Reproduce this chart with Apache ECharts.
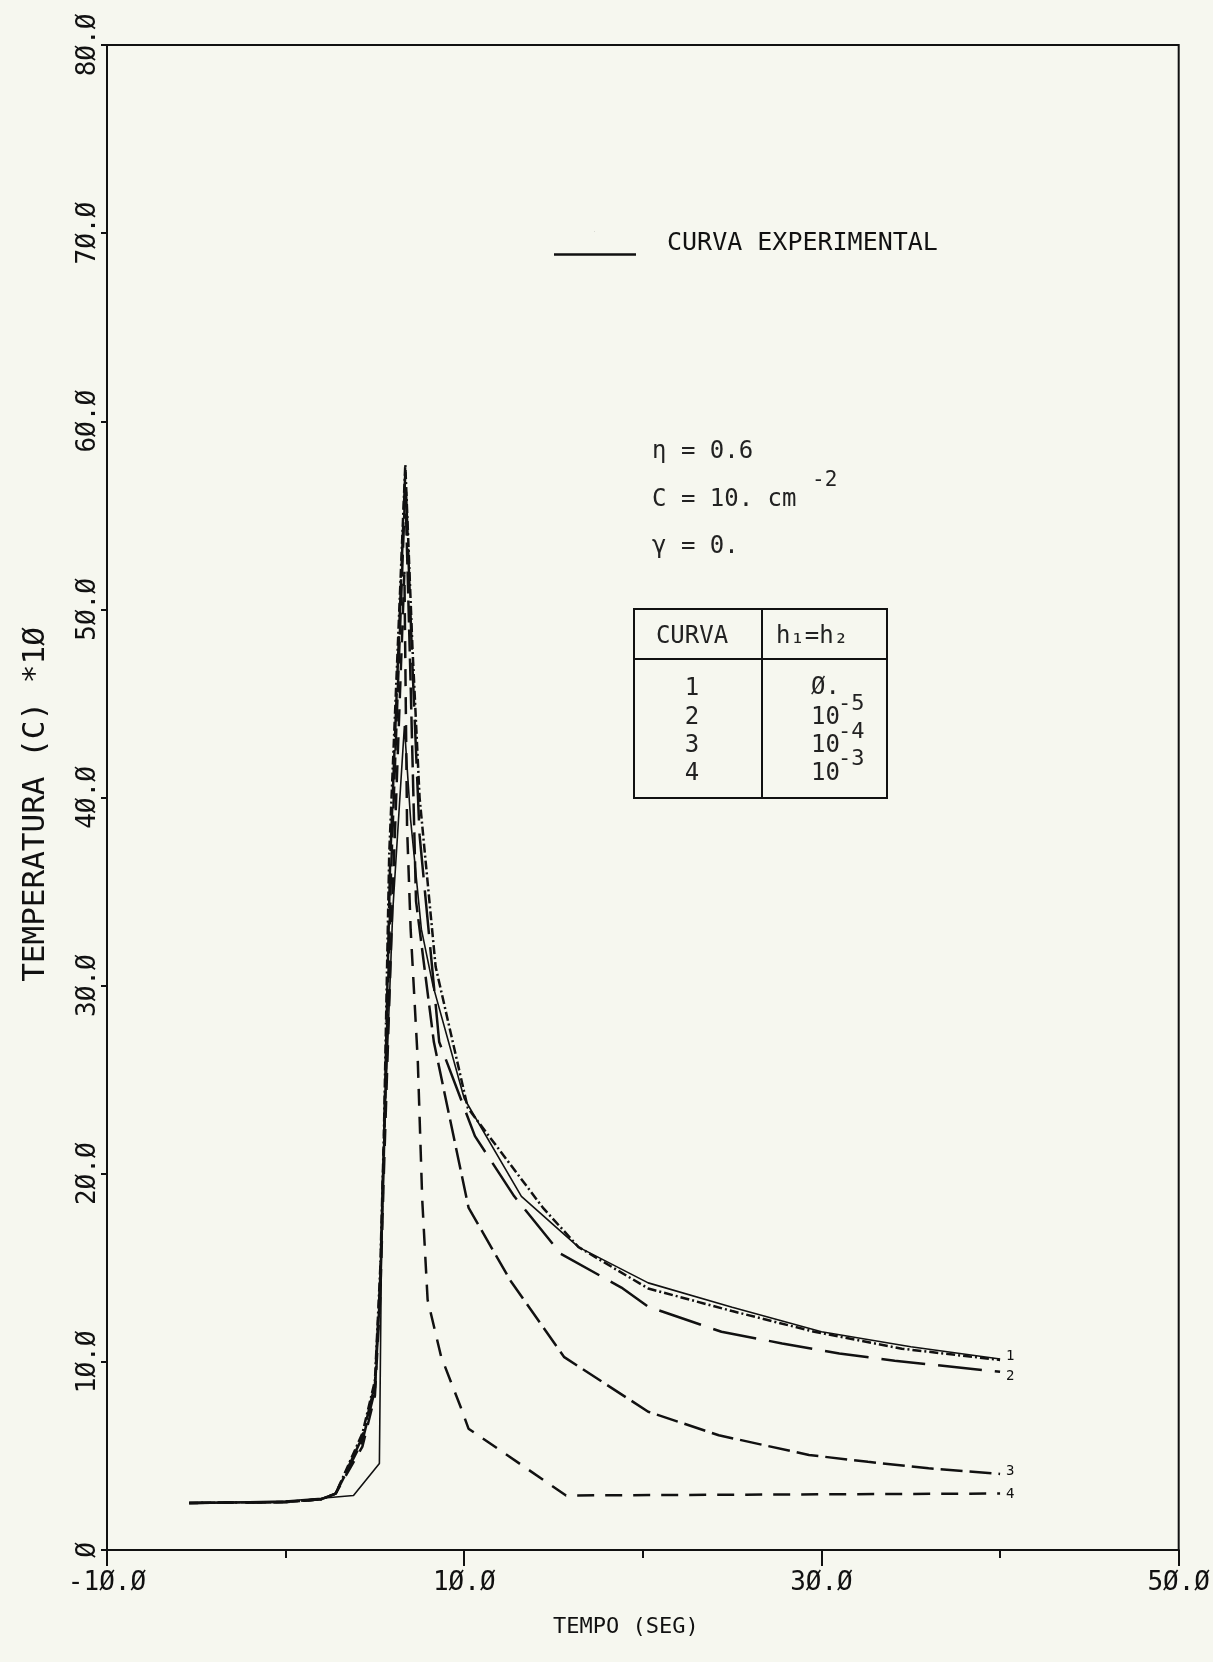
<!DOCTYPE html>
<html>
<head>
<meta charset="utf-8">
<script src="https://cdn.jsdelivr.net/npm/echarts@6/dist/echarts.min.js"></script>
<style>
html,body{margin:0;padding:0;background:#f6f7ef;}
#chart{width:1213px;height:1662px;}
</style>
</head>
<body>
<div id="chart"></div>
<script>
// ---- tick labels ----
const xTicks = [-10, 10, 30, 50];
const xTickLabels = ['-1Ø.Ø', '1Ø.Ø', '3Ø.Ø', '5Ø.Ø'];
const yTicks = [0, 10, 20, 30, 40, 50, 60, 70, 80];
const yTickLabels = ['Ø', '1Ø.Ø', '2Ø.Ø', '3Ø.Ø', '4Ø.Ø', '5Ø.Ø', '6Ø.Ø', '7Ø.Ø', '8Ø.Ø'];

// ---- series data (time in s, temperature in C*10) ----
const expT = [-5.4, 0, 2.0, 3.8, 5.25, 5.4, 6.0, 6.65, 7.0, 7.6, 8.25, 10.0, 13.2, 16.4, 20.3, 25, 30, 35, 40];
const expV = [2.5, 2.6, 2.75, 2.9, 4.6, 19, 34, 43.8, 38.8, 33, 30, 24, 18.8, 16.1, 14.2, 12.9, 11.6, 10.8, 10.15];

const c1T = [-5.4, 0, 2.0, 2.8, 4.3, 5.0, 5.3, 5.5, 5.8, 6.7, 7.1, 7.5, 8.4, 10.2, 14.4, 16.4, 20.3, 25, 29.6, 34.5, 40];
const c1V = [2.5, 2.55, 2.7, 3.0, 6.2, 9.0, 15, 22, 37, 57.7, 48, 40, 31, 23.5, 18.2, 16.1, 13.9, 12.7, 11.6, 10.7, 10.1];

const c2T = [-5.4, 0, 2.0, 2.8, 4.3, 5.0, 5.3, 5.5, 5.85, 6.7, 7.1, 7.5, 8.6, 10.6, 12.8, 15.4, 18.8, 20.3, 24.4, 27.8, 31, 34.1, 40];
const c2V = [2.5, 2.55, 2.7, 3.0, 6.0, 8.8, 14.5, 21.5, 36.5, 57.3, 47, 38, 27, 22, 18.8, 15.75, 13.95, 12.93, 11.6, 10.98, 10.45, 10.06, 9.47];

const c3T = [-5.4, 0, 2.0, 2.8, 4.3, 5.0, 5.3, 5.5, 5.9, 6.7, 7.0, 7.3, 8.3, 10.24, 12.6, 15.6, 20.3, 24.25, 29.3, 32.6, 36, 40];
const c3V = [2.5, 2.55, 2.7, 3.0, 5.8, 8.5, 14, 21, 36, 56.5, 46, 34.5, 27, 18.2, 14.3, 10.25, 7.35, 6.1, 5.05, 4.69, 4.34, 4.04];

const c4T = [-5.4, 0, 2.0, 2.8, 4.3, 5.0, 5.3, 5.5, 6.0, 6.65, 6.8, 7.0, 7.4, 7.65, 7.95, 8.7, 9.8, 10.24, 15.7, 40];
const c4V = [2.5, 2.55, 2.7, 3.0, 5.5, 8.2, 13.5, 20, 35, 52, 38.4, 33, 26, 18.6, 13.3, 10.3, 7.6, 6.45, 2.9, 3.0];

const curveLabels = ['1', '2', '3', '4'];
const legendName = 'CURVA EXPERIMENTAL';

function zip(t, v) { return t.map((x, i) => [x, v[i]]); }

const FONT = '"DejaVu Sans Mono", "Liberation Mono", monospace';
const INK = '#111';

const chart = echarts.init(document.getElementById('chart'), null, {renderer: 'canvas'});

function curve(name, t, v, dash, width, label, offset) {
  return {
    name: name, type: 'line', data: zip(t, v), symbol: 'none', showSymbol: false, smooth: false,
    lineStyle: {color: INK, width: width, type: dash},
    itemStyle: {color: INK},
    endLabel: label ? {show: true, formatter: label, fontFamily: FONT, fontSize: 14, color: INK, distance: 6, offset: offset || [0, 0]} : {show: false},
    silent: true, z: 3
  };
}

const option = {
  backgroundColor: '#f6f7ef',
  animation: false,
  grid: {left: 107, right: 33, top: 45, bottom: 112, show: true, borderColor: INK, borderWidth: 2},
  xAxis: {
    type: 'value', min: -10, max: 50, interval: 20,
    axisLine: {onZero: false, lineStyle: {color: INK, width: 2}},
    axisTick: {length: 16, lineStyle: {color: INK, width: 2}},
    minorTick: {show: true, splitNumber: 2, length: 8, lineStyle: {color: INK, width: 2}},
    splitLine: {show: false},
    axisLabel: {
      formatter: function (v) { const i = xTicks.indexOf(v); return i >= 0 ? xTickLabels[i] : ''; },
      fontFamily: FONT, fontSize: 26, color: INK, margin: 20, showMinLabel: true, showMaxLabel: true
    },
    name: 'TEMPO (SEG)', nameLocation: 'middle', nameGap: 66,
    nameTextStyle: {fontFamily: FONT, fontSize: 22, color: INK, padding: [0, 34, 0, 0]}
  },
  yAxis: {
    type: 'value', min: 0, max: 80, interval: 10,
    axisLine: {onZero: false, lineStyle: {color: INK, width: 2}},
    axisTick: {length: 6, lineStyle: {color: INK, width: 2}},
    splitLine: {show: false},
    axisLabel: {
      rotate: 90,
      formatter: function (v) { const i = yTicks.indexOf(v); return i >= 0 ? yTickLabels[i] : ''; },
      fontFamily: FONT, fontSize: 26, color: INK, margin: 6, showMinLabel: true, showMaxLabel: true
    },
    name: 'TEMPERATURA (C) *1Ø', nameLocation: 'middle', nameRotate: 90, nameGap: 56,
    nameTextStyle: {fontFamily: FONT, fontSize: 31, color: INK, padding: [0, 14, 0, 0]}
  },
  legend: {
    data: [{name: legendName, icon: 'path://M40,0 L40.5,0 L40.5,0.3 L40,0.3 Z M0,22 L82,22 L82,24.5 L0,24.5 Z'}],
    left: 549, top: 226, itemWidth: 82, itemHeight: 24.5, selectedMode: false,
    textStyle: {fontFamily: FONT, fontSize: 25, color: INK, padding: [0, 0, 0, 26]}
  },
  series: [
    curve(legendName, expT, expV, 'solid', 1.6, null),
    curve('CURVA 1', c1T, c1V, [9, 3, 2, 3], 2.5, curveLabels[0], [0, -4]),
    curve('CURVA 2', c2T, c2V, [44, 13], 2.5, curveLabels[1], [0, 5]),
    curve('CURVA 3', c3T, c3V, [22, 7], 2.5, curveLabels[2], [0, -3]),
    curve('CURVA 4', c4T, c4V, [17, 11], 2.5, curveLabels[3], [0, 1])
  ],
  graphic: [
    {type: 'text', x: 652, y: 452, style: {text: 'η = 0.6', font: '24px ' + FONT, fill: '#222', verticalAlign: 'middle'}},
    {type: 'text', x: 652, y: 500, style: {text: 'C = 10. cm', font: '24px ' + FONT, fill: '#222', verticalAlign: 'middle'}},
    {type: 'text', x: 812, y: 481, style: {text: '-2', font: '21px ' + FONT, fill: '#222', verticalAlign: 'middle'}},
    {type: 'text', x: 652, y: 547, style: {text: 'γ = 0.', font: '24px ' + FONT, fill: '#222', verticalAlign: 'middle'}},
    {type: 'rect', shape: {x: 634, y: 609, width: 253, height: 189}, style: {fill: 'none', stroke: INK, lineWidth: 2}},
    {type: 'line', shape: {x1: 762, y1: 609, x2: 762, y2: 798}, style: {stroke: INK, lineWidth: 2}},
    {type: 'line', shape: {x1: 634, y1: 659, x2: 887, y2: 659}, style: {stroke: INK, lineWidth: 2}},
    {type: 'text', x: 692, y: 637, style: {text: 'CURVA', font: '24px ' + FONT, fill: '#222', align: 'center', verticalAlign: 'middle'}},
    {type: 'text', x: 812, y: 637, style: {text: 'h₁=h₂', font: '24px ' + FONT, fill: '#222', align: 'center', verticalAlign: 'middle'}},
    {type: 'text', x: 692, y: 689, style: {text: '1', font: '24px ' + FONT, fill: '#222', align: 'center', verticalAlign: 'middle'}},
    {type: 'text', x: 692, y: 718, style: {text: '2', font: '24px ' + FONT, fill: '#222', align: 'center', verticalAlign: 'middle'}},
    {type: 'text', x: 692, y: 746, style: {text: '3', font: '24px ' + FONT, fill: '#222', align: 'center', verticalAlign: 'middle'}},
    {type: 'text', x: 692, y: 774, style: {text: '4', font: '24px ' + FONT, fill: '#222', align: 'center', verticalAlign: 'middle'}},
    {type: 'text', x: 811, y: 688, style: {text: 'Ø.', font: '24px ' + FONT, fill: '#222', verticalAlign: 'middle'}},
    {type: 'text', x: 811, y: 718, style: {text: '10', font: '24px ' + FONT, fill: '#222', verticalAlign: 'middle'}},
    {type: 'text', x: 811, y: 746, style: {text: '10', font: '24px ' + FONT, fill: '#222', verticalAlign: 'middle'}},
    {type: 'text', x: 811, y: 774, style: {text: '10', font: '24px ' + FONT, fill: '#222', verticalAlign: 'middle'}},
    {type: 'text', x: 838, y: 704, style: {text: '-5', font: '22px ' + FONT, fill: '#222', verticalAlign: 'middle'}},
    {type: 'text', x: 838, y: 732, style: {text: '-4', font: '22px ' + FONT, fill: '#222', verticalAlign: 'middle'}},
    {type: 'text', x: 838, y: 759, style: {text: '-3', font: '22px ' + FONT, fill: '#222', verticalAlign: 'middle'}}
  ]
};
chart.setOption(option);
</script>
</body>
</html>
